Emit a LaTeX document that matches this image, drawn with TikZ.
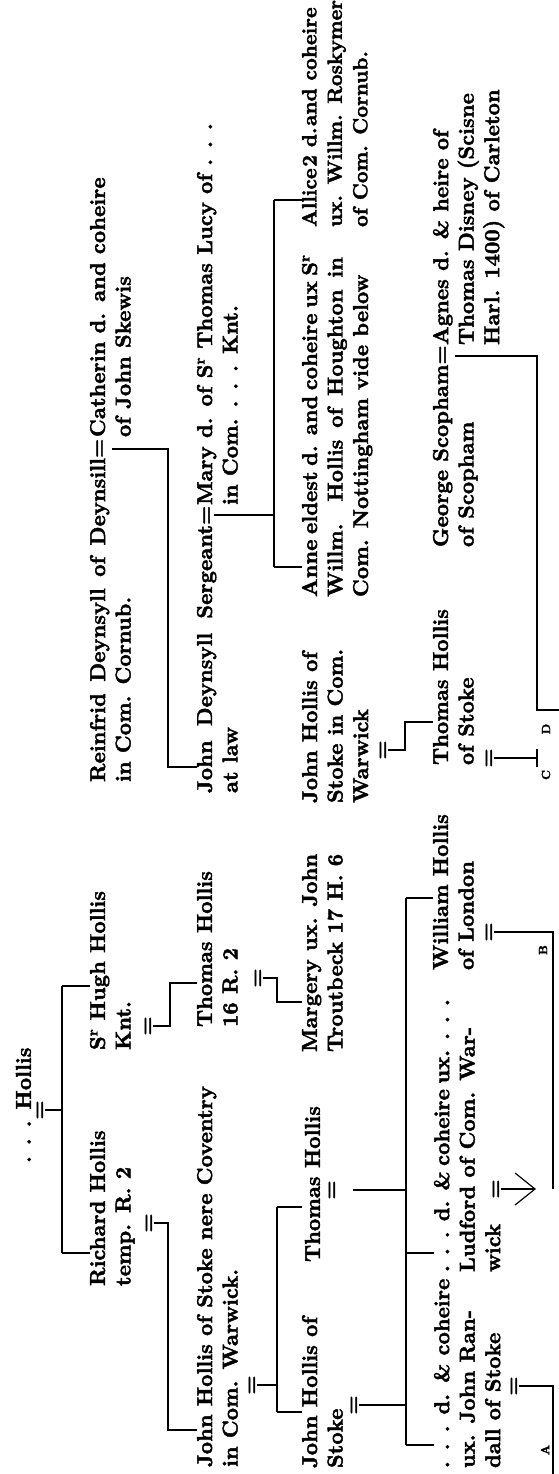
\documentclass[tikz,border=0pt]{standalone}
\usepackage{fontspec}
\newfontfamily\chartfont{lmroman10-bold.otf}[FakeBold=2]
\usetikzlibrary{arrows.meta}
\begin{document}
\begin{tikzpicture}[x=1pt,y=-1pt,
  txt/.style={rotate=90,anchor=north west,inner sep=0pt,outer sep=0pt,align=left,
    font=\fontsize{21.5}{25.5}\selectfont\chartfont,execute at begin node=\strut},
  eqs/.style={rotate=90,inner sep=0pt,outer sep=0pt,font=\fontsize{21.5}{25.5}\selectfont\chartfont},
  lab/.style={rotate=90,inner sep=0pt,outer sep=0pt,font=\fontsize{12}{14}\selectfont\chartfont},
  ln/.style={line width=1.2pt}]
\fill[white] (0,0) rectangle (559,1474);
\useasboundingbox (0,0) rectangle (559,1474);

% ---- generation 1
\node[txt] (hol) at (13,1163) {. . . Hollis};
% ---- generation 2
\node[txt] (ric) at (90,1286) {Richard Hollis\\temp. R. 2};
\node[txt] (hug) at (90,1050) {S\textsuperscript{r} Hugh Hollis\\Knt.};
\node[txt] (rei) at (90,782) {\makebox[324pt][s]{Reinfrid Deynsyll of Deynsill}=\\in Com. Cornub.};
\node[txt] (cat) at (90,437) {Catherin d. and coheire\\of John Skewis};
% ---- generation 3
\node[txt] (jh1) at (197,1467) {John Hollis of Stoke nere Coventry\\in Com. Warwick.};
\node[txt] (th2) at (197,1027) {Thomas Hollis\\16 R. 2};
\node[txt] (jds) at (197,793) {\makebox[268pt][s]{John Deynsyll Sergeant}=\\at law};
\node[txt] (mar) at (197,505) {Mary d. of S\textsuperscript{r} Thomas Lucy of . . .\\in Com. . . . Knt.};
% ---- generation 4
\node[txt] (js) at (302,1468) {John Hollis of\\Stoke};
\node[txt] (th3) at (302,1262) {Thomas Hollis};
\node[txt] (mg) at (302,1052) {Margery ux. John\\Troutbeck 17 H. 6};
\node[txt] (jw) at (302,803) {John Hollis of\\Stoke in Com.\\Warwick};
\node[txt] (an) at (302,597) {\makebox[340pt][s]{Anne eldest d. and coheire ux S\textsuperscript{r}}\\\makebox[340pt][s]{Willm. Hollis of Houghton in}\\Com. Nottingham vide below};
\node[txt,font=\fontsize{20.5}{25.5}\selectfont\chartfont] (al) at (302,227) {Allice\kern1.5pt 2 d.\kern1.5pt and coheire\\ux. Willm. Roskymer\\of Com. Cornub.};
% ---- generation 5
\node[txt] (d1) at (434,1468) {. . . d. \& coheire\\ux. John Ran-\\dall of Stoke};
\node[txt] (d2) at (434,1272) {\makebox[252pt][s]{. . . d. \& coheire ux. . . .}\\Ludford of Com. War-\\wick};
\node[txt] (wi) at (433,970) {William Hollis\\of London};
\node[txt] (th4) at (433,765) {Thomas Hollis\\of Stoke};
\node[txt] (ge) at (433,547) {George Scopham=\\of Scopham};
\node[txt] (ag) at (433,345) {Agnes d. \& heire of\\Thomas Disney (Scisne\\Harl. 1400) of Carleton};

% ---- marriage signs
\node[eqs] (e1) at (41,1110) {=};
\node[eqs] (e2) at (150,1223) {=};
\node[eqs] (e3) at (149,1026) {=};
\node[eqs] (e4) at (253,1385) {=};
\node[eqs] (e5) at (259,978) {=};
\node[eqs] (e6) at (355,1405) {=};
\node[eqs] (e7) at (333,1190) {=};
\node[eqs] (e8) at (384,750) {=};
\node[eqs] (e9) at (515,1386) {=};
\node[eqs] (e10) at (497,1189) {=};
\node[eqs] (e11) at (490,932) {=};
\node[eqs] (e12) at (490,758) {=};

% ---- continuation letters
\node[lab] (la) at (545,1450) {A};
\node[lab] (lb) at (543,950) {B};
\node[lab] (lc) at (546,775) {C};
\node[lab] (ld) at (546,729) {D};

% ---- junction points
\coordinate (c1) at (62,1110); \coordinate (c1a) at (62,1253); \coordinate (c1b) at (62,986);
\coordinate (c2) at (168,1223); \coordinate (c2b) at (168,1430);
\coordinate (c3) at (170,1026); \coordinate (c3b) at (170,983);
\coordinate (m1) at (112,449); \coordinate (c4) at (168,449); \coordinate (c4b) at (168,767);
\coordinate (c5) at (277,1385); \coordinate (c5a) at (277,1207); \coordinate (c5b) at (277,1412);
\coordinate (c6) at (277,978); \coordinate (c6b) at (277,1002);
\coordinate (m2) at (214,515); \coordinate (c7) at (274,515); \coordinate (c7a) at (274,200); \coordinate (c7b) at (274,567);
\coordinate (c8) at (406,1405); \coordinate (c9) at (406,1190);
\coordinate (c10a) at (406,898); \coordinate (c10b) at (406,1445); \coordinate (c10c) at (406,1253);
\coordinate (c11) at (405,750); \coordinate (c11b) at (405,722);
\coordinate (c12) at (553,1386); \coordinate (c12b) at (553,1474);
\coordinate (tip) at (536,1189);
\coordinate (c13) at (553,932); \coordinate (c13b) at (553,1189);
\coordinate (m3) at (455,356); \coordinate (c14) at (537,356); \coordinate (c14b) at (537,710); \coordinate (c14c) at (559,710);
\coordinate (c15) at (537,758); \coordinate (c15a) at (537,749); \coordinate (c15b) at (537,767);

% ---- connectors
\draw[ln] (e1.south) -- (c1);
\draw[ln] (c1a) -- (c1b);
\draw[ln] (c1a) -- (c1a -| ric.north);
\draw[ln] (c1b) -- (c1b -| hug.north);
\draw[ln] (e2.south) -- (c2) -- (c2b) -- (c2b -| jh1.north);
\draw[ln] (e3.south) -- (c3) -- (c3b) -- (c3b -| th2.north);
\draw[ln] (m1) -- (c4) -- (c4b) -- (c4b -| jds.north);
\draw[ln] (e4.south) -- (c5);
\draw[ln] (c5a) -- (c5b);
\draw[ln] (c5a) -- (c5a -| th3.north);
\draw[ln] (c5b) -- (c5b -| js.north);
\draw[ln] (e5.south) -- (c6) -- (c6b) -- (c6b -| mg.north);
\draw[ln] (m2) -- (c7);
\draw[ln] (c7a) -- (c7b);
\draw[ln] (c7a) -- (c7a -| al.north);
\draw[ln] (c7b) -- (c7b -| an.north);
\draw[ln] (e6.south) -- (c8);
\draw[ln,shorten <=16pt] (e7.south) -- (c9);
\draw[ln] (c10a) -- (c10b);
\draw[ln] (c10a) -- (c10a -| wi.north);
\draw[ln] (c10c) -- (c10c -| d2.north);
\draw[ln] (c10b) -- (c10b -| d1.north);
\draw[ln] (e8.south) -- (c11) -- (c11b) -- (c11b -| th4.north);
\draw[ln] (e9.south) -- (c12) -- (c12b);
\draw[ln,-{Straight Barb[length=20pt,width=32pt]}] (e10.south) -- (tip);
\draw[ln] (e11.south) -- (c13) -- (c13b);
\draw[ln] (m3) -- (c14) -- (c14b) -- (c14c);
\draw[ln] (e12.south) -- (c15);
\draw[ln] (c15a) -- (c15b);
\end{tikzpicture}
\end{document}
